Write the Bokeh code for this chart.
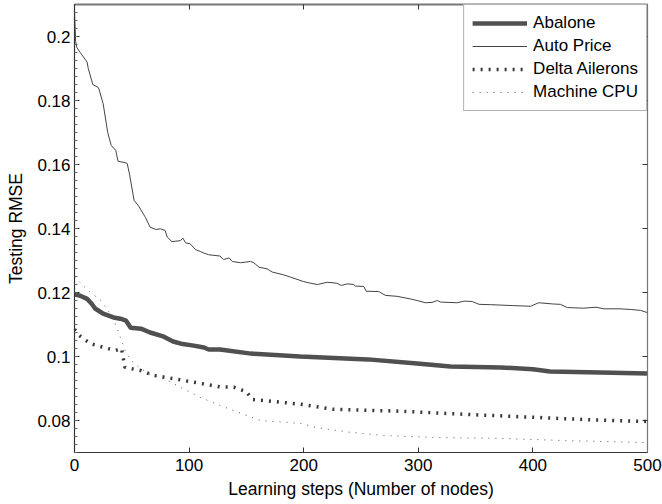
from bokeh.plotting import figure
from bokeh.models import (LinearAxis, SingleIntervalTicker, CustomJSTickFormatter,
                          Legend, LegendItem, Range1d)
from bokeh.embed import file_html
from bokeh.resources import INLINE

# ---- data ----
abalone_x = [0, 5, 11, 15, 18, 25, 34, 40, 45, 49, 58, 66, 78, 86, 93, 104, 113, 117, 127,
             154, 197, 256, 299, 328, 372, 400, 415, 459, 500]
abalone_y = [0.1194, 0.1190, 0.1180, 0.1165, 0.1150, 0.1134, 0.1122, 0.1118, 0.1112, 0.1090,
             0.1087, 0.1075, 0.1062, 0.1047, 0.1040, 0.1034, 0.1028, 0.1022, 0.1022,
             0.1009, 0.1000, 0.0991, 0.0978, 0.0969, 0.0966, 0.0960, 0.0953, 0.0950, 0.0947]

auto_x = [0, 1, 2, 5, 11, 12, 16, 21, 25, 29, 32, 36, 38, 44, 46, 48, 52, 56, 62,
          66, 71, 75, 79, 81, 85, 92.5, 94.5, 97, 101, 105.6, 110, 113, 117, 127, 130, 135,
          137.6, 145, 153.6, 156.5, 161, 168, 172.5, 182.6, 188.5, 200, 206, 212, 220.5,
          229, 232.7, 238, 243.7, 245.2, 252.4, 254.5, 265.5, 271.3, 281.5, 293, 299, 306,
          312, 316.6, 319.5, 334, 340, 347, 353, 363, 383, 398, 405, 418, 424, 430, 444,
          455, 462, 476, 485, 494, 500]
auto_y = [0.2075, 0.1985, 0.1966, 0.1950, 0.1920, 0.1900, 0.1850, 0.1840, 0.1790, 0.1700,
          0.1660, 0.1644, 0.1610, 0.1606, 0.1603, 0.1570, 0.1488, 0.1470, 0.1434,
          0.1404, 0.1397, 0.1399, 0.1394, 0.1373, 0.1359, 0.1362, 0.1370, 0.1355, 0.1352,
          0.1334, 0.1328, 0.1323, 0.1318, 0.1314, 0.1303, 0.1308, 0.1297, 0.1293, 0.1297,
          0.1293, 0.1279, 0.1274, 0.1264, 0.1255, 0.1248, 0.1234, 0.1229, 0.1225, 0.1232,
          0.1229, 0.1222, 0.1227, 0.1225, 0.1220, 0.1219, 0.1204, 0.1203, 0.1191, 0.1188,
          0.1180, 0.1175, 0.1168, 0.1169, 0.1175, 0.1170, 0.1168, 0.1173, 0.1172, 0.1163,
          0.1162, 0.1159, 0.1157, 0.1168, 0.1164, 0.1163, 0.1153, 0.1151, 0.1154, 0.1149,
          0.1149, 0.1147, 0.1144, 0.1137]

delta_x = [0, 4, 14, 29, 36, 41, 44, 58, 69, 86, 110, 127, 139, 150, 155, 197, 226, 285,
           343, 400, 459, 500]
delta_y = [0.1085, 0.1066, 0.1040, 0.1025, 0.1019, 0.1025, 0.0966, 0.0956, 0.0941, 0.0931,
           0.0916, 0.0905, 0.0904, 0.0890, 0.0866, 0.0851, 0.0835, 0.0829, 0.0819, 0.0810,
           0.0801, 0.0797]

cpu_x = [0, 3, 12, 23, 33, 38, 42, 45, 52, 64, 81, 93, 110, 127, 139, 162, 197, 211, 241,
         270, 313, 372, 430, 500]
cpu_y = [0.1250, 0.1238, 0.1206, 0.1175, 0.1125, 0.1080, 0.1040, 0.1010, 0.0978, 0.0947,
         0.0925, 0.0903, 0.0872, 0.0847, 0.0831, 0.0800, 0.0791, 0.0778, 0.0763, 0.0753,
         0.0747, 0.0744, 0.0737, 0.0731]

series_names = ["Abalone", "Auto Price", "Delta Ailerons", "Machine CPU"]
x_label = "Learning steps (Number of nodes)"
y_label = "Testing RMSE"

FONT = "Liberation Sans"
AX = "#333333"

p = figure(width=662, height=504, output_backend="svg", toolbar_location=None,
           x_range=Range1d(0, 500), y_range=Range1d(0.07, 0.21),
           x_axis_location=None, y_axis_location=None,
           min_border_left=74, min_border_right=15, min_border_top=4, min_border_bottom=52,
           background_fill_color="white", border_fill_color="white")
p.grid.visible = False
p.outline_line_color = "#555555"
p.outline_line_width = 1

blank = CustomJSTickFormatter(code="return '';")

def style(ax, labels=True):
    ax.axis_line_color = AX
    ax.axis_line_width = 1.2
    ax.major_tick_in = 5
    ax.major_tick_out = 0
    ax.minor_tick_in = 0
    ax.minor_tick_out = 0
    ax.major_tick_line_color = AX
    if labels:
        ax.major_label_text_font = FONT
        ax.major_label_text_font_size = "17px"
        ax.major_label_text_color = "black"
        ax.axis_label_text_font = FONT
        ax.axis_label_text_font_size = "17.5px"
        ax.axis_label_text_font_style = "normal"
        ax.axis_label_text_color = "black"
    else:
        ax.formatter = blank
        ax.major_label_text_font_size = "1px"
        ax.major_label_standoff = 0

fmt = CustomJSTickFormatter(code="return String(Math.round(tick*1000)/1000);")

xb = LinearAxis(ticker=SingleIntervalTicker(interval=100, num_minor_ticks=0), axis_label=x_label)
style(xb)
xb.major_label_standoff = 6
xb.axis_label_standoff = 5
p.add_layout(xb, "below")

xt = LinearAxis(ticker=SingleIntervalTicker(interval=100, num_minor_ticks=0))
style(xt, labels=False)
xt.axis_line_color = "#777777"
xt.axis_line_width = 2
p.add_layout(xt, "above")

yl = LinearAxis(ticker=SingleIntervalTicker(interval=0.02, num_minor_ticks=8),
                formatter=fmt, axis_label=y_label)
style(yl)
yl.minor_tick_in = 3
yl.minor_tick_line_color = "#666666"
yl.major_label_standoff = 4
yl.axis_label_standoff = 8
p.add_layout(yl, "left")

yr = LinearAxis(ticker=SingleIntervalTicker(interval=0.02, num_minor_ticks=0))
style(yr, labels=False)
yr.axis_line_color = "#777777"
p.add_layout(yr, "right")

r1 = p.line(abalone_x, abalone_y, line_color="#505050", line_width=4.5)
r2 = p.line(auto_x, auto_y, line_color="#444444", line_width=1)
r3 = p.line(delta_x, delta_y, line_color="#3a3a3a", line_width=3.5, line_dash="2 6")
r4 = p.line(cpu_x, cpu_y, line_color="#555555", line_width=1, line_dash="1 6")

legend = Legend(items=[LegendItem(label=n, renderers=[r]) for n, r in
                       zip(series_names, [r1, r2, r3, r4])],
                location="top_right")
legend.margin = 0
legend.padding = 8
legend.spacing = 3
legend.glyph_width = 55
legend.glyph_height = 20
legend.label_height = 20
legend.label_standoff = 6
legend.border_line_color = "#666666"
legend.border_line_width = 1
legend.label_text_font = FONT
legend.label_text_font_size = "17px"
legend.label_text_color = "black"
legend.background_fill_color = "white"
legend.background_fill_alpha = 1
p.add_layout(legend, "center")

open("out.html", "w").write(file_html(p, INLINE))
